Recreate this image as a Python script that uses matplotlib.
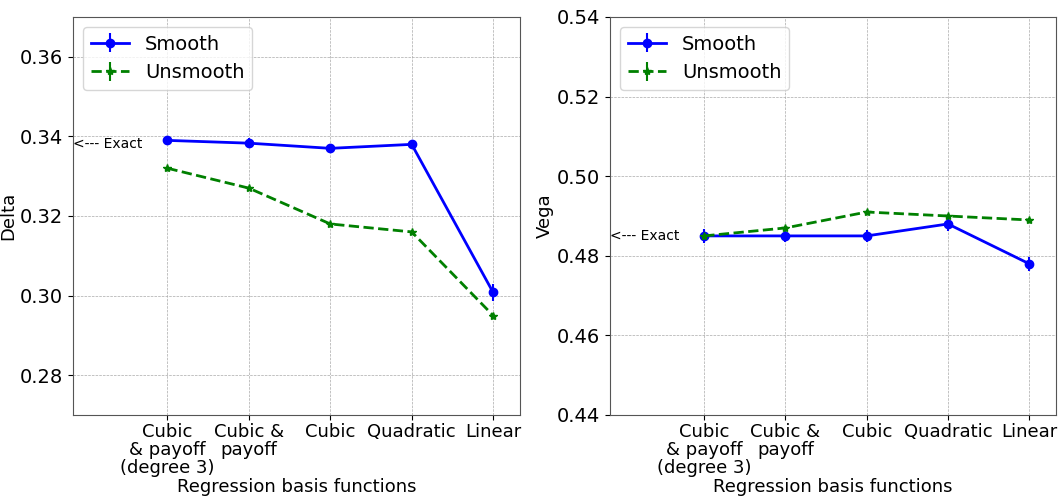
import matplotlib
matplotlib.use("Agg")
import matplotlib.pyplot as plt
import numpy as np

basis = ["Cubic\n& payoff\n(degree 3)", "Cubic &\npayoff", "Cubic", "Quadratic", "Linear"]

delta_smooth = [0.339, 0.3383, 0.337, 0.338, 0.3008]
delta_smooth_err = [0.0005, 0.0012, 0.0005, 0.0005, 0.0022]
delta_unsmooth = [0.332, 0.327, 0.318, 0.316, 0.295]
delta_unsmooth_err = [0.0004, 0.0004, 0.0004, 0.0004, 0.0004]
delta_exact = 0.338

vega_smooth = [0.485, 0.485, 0.485, 0.488, 0.478]
vega_smooth_err = [0.0018, 0.0016, 0.0016, 0.0018, 0.0018]
vega_unsmooth = [0.485, 0.487, 0.491, 0.490, 0.489]
vega_unsmooth_err = [0.0004, 0.0004, 0.0004, 0.0004, 0.0004]
vega_exact = 0.485

plt.rcParams.update({"font.family": "DejaVu Sans"})

fig = plt.figure(figsize=(10.62, 5.01), dpi=100)
ax1 = fig.add_axes([73/1062, 86/501, 447/1062, 398/501])
ax2 = fig.add_axes([610/1062, 86/501, 446/1062, 398/501])

x = np.arange(len(basis))


def panel(ax, sm, sme, un, une, exact, ylim, yticks, ylabel):
    ax.errorbar(x, sm, yerr=sme, color="blue", marker="o", markersize=6,
                linewidth=2, elinewidth=1.5, label="Smooth")
    ax.errorbar(x, un, yerr=une, color="green", marker="*", markersize=6,
                linestyle="--", linewidth=2, elinewidth=1.5, label="Unsmooth")
    ax.set_xlim(-1.16, 4.33)
    ax.set_ylim(*ylim)
    ax.set_yticks(yticks)
    ax.set_yticklabels(["%.2f" % t for t in yticks], fontsize=14)
    ax.set_xticks(x)
    ax.set_xticklabels(basis, fontsize=13, linespacing=1.0)
    ax.tick_params(axis="x", pad=2)
    ax.set_xlabel("Regression basis functions", fontsize=13, labelpad=1)
    ax.set_ylabel(ylabel, fontsize=13, labelpad=2)
    ax.grid(True, linestyle="--", linewidth=0.5, color="#aaaaaa")
    for s in ax.spines.values():
        s.set_edgecolor("#555555")
    ax.text(-1.16, exact, "<--- Exact", fontsize=10, ha="left", va="center")
    ax.legend(loc="upper left", fontsize=14)


panel(ax1, delta_smooth, delta_smooth_err, delta_unsmooth, delta_unsmooth_err,
      delta_exact, (0.27, 0.37), [0.28, 0.30, 0.32, 0.34, 0.36], "Delta")
panel(ax2, vega_smooth, vega_smooth_err, vega_unsmooth, vega_unsmooth_err,
      vega_exact, (0.44, 0.54), [0.44, 0.46, 0.48, 0.50, 0.52, 0.54], "Vega")

fig.savefig("out.png", dpi=100)
